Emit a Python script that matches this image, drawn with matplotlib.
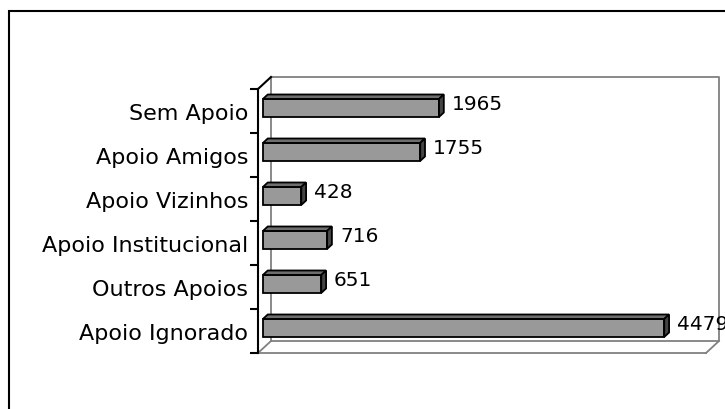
import numpy as np
import matplotlib
matplotlib.use("Agg")
import matplotlib.pyplot as plt
from matplotlib.patches import Rectangle, Polygon

# data (bottom to top)
cats = ["Apoio Ignorado", "Outros Apoios", "Apoio Institucional",
        "Apoio Vizinhos", "Apoio Amigos", "Sem Apoio"]
vals = [4479, 651, 716, 428, 1755, 1965]
xmax = 5000

W, H = 725, 410
fig = plt.figure(figsize=(W / 100, H / 100), dpi=100)
fig.patch.set_facecolor("white")

# front plane of the 3d box, in pixels
L, R, T, B = 258, 706, 90, 354
ax = fig.add_axes([L / W, (H - B) / H, (R - L) / W, (B - T) / H])
ax.set_xlim(0, xmax)
ax.set_ylim(-0.5, len(cats) - 0.5)
ax.patch.set_alpha(0)

# pixel -> data units
px = xmax / (R - L)
py = len(cats) / (B - T)
DX, DY = 13, 12          # full depth offset in pixels


def off(x, y, f):
    return (x + f * DX * px, y + f * DY * py)


wall = "#808080"
y0, y1 = -0.5, len(cats) - 0.5
# back wall
bw = [off(0, y0, 1), off(0, y1, 1), off(xmax, y1, 1), off(xmax, y0, 1), off(0, y0, 1)]
ax.plot(*zip(*bw), color=wall, lw=1.3, clip_on=False, zorder=1)
# floor
ax.plot([0, xmax], [y0, y0], color=wall, lw=1.3, clip_on=False, zorder=1)
for xx in (0, xmax):
    ax.plot(*zip(off(xx, y0, 0), off(xx, y0, 1)), color=wall, lw=1.3,
            clip_on=False, zorder=1)
# top-left edge of the axis
ax.plot(*zip(off(0, y1, 0), off(0, y1, 1)), color="black", lw=1.5,
        clip_on=False, zorder=3)

# 3d bars
f0, f1 = 0.38, 0.75
h = 18 * py
for i, v in enumerate(vals):
    yc = i - 1.5 * py
    fx, fy = off(0, yc, f0)
    ax.add_patch(Rectangle((fx, fy - h / 2), v, h, facecolor="#999999",
                           edgecolor="black", lw=1.3, clip_on=False, zorder=4))
    top = [off(0, yc + h / 2, f0), off(v, yc + h / 2, f0),
           off(v, yc + h / 2, f1), off(0, yc + h / 2, f1)]
    ax.add_patch(Polygon(top, closed=True, facecolor="#6e6e6e",
                         edgecolor="black", lw=1.3, clip_on=False, zorder=4))
    side = [off(v, yc - h / 2, f0), off(v, yc + h / 2, f0),
            off(v, yc + h / 2, f1), off(v, yc - h / 2, f1)]
    ax.add_patch(Polygon(side, closed=True, facecolor="#444444",
                         edgecolor="black", lw=1.3, clip_on=False, zorder=4))
    lx, ly = off(v, i, f1)
    ax.text(lx + 8 * px, i + 7 * py, str(v), fontsize=14.5, va="center",
            ha="left", color="black", clip_on=False, zorder=5)

# axes: only left spine with outward ticks at category boundaries
for s in ("top", "right", "bottom"):
    ax.spines[s].set_visible(False)
ax.spines["left"].set_linewidth(1.5)
ax.spines["left"].set_zorder(3)
ax.set_xticks([])
ax.set_yticks(np.arange(-0.5, len(cats), 1.0))
ax.set_yticklabels([])
ax.tick_params(axis="y", which="major", direction="out", length=6, width=1.5)
ax.set_yticks(np.arange(len(cats)), minor=True)
ax.set_yticklabels(cats, minor=True, fontsize=16)
ax.tick_params(axis="y", which="minor", length=0, pad=7)

# outer chart frame
fig.add_artist(Rectangle((9 / W, -0.1), 1.0, (H - 12) / H + 0.1,
                         transform=fig.transFigure, fill=False,
                         edgecolor="black", lw=1.5))

fig.savefig("out.png", dpi=100)
